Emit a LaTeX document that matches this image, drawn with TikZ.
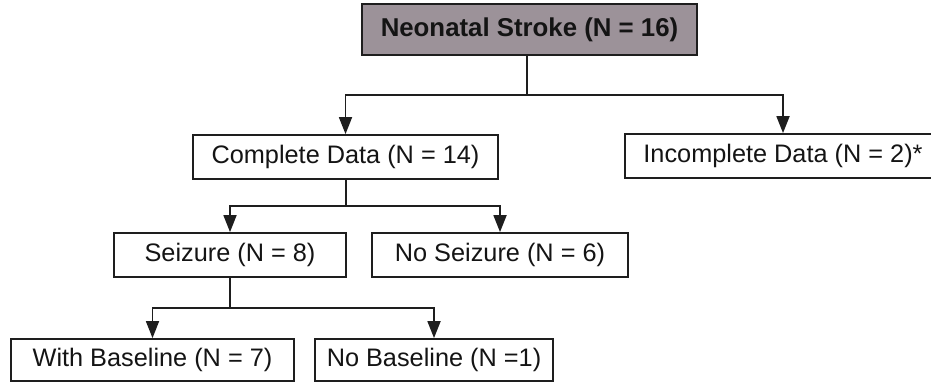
\documentclass[tikz,border=0pt]{standalone}
\usepackage{fontspec}
\setmainfont{Liberation Sans}
\usetikzlibrary{arrows.meta}
\definecolor{topfill}{RGB}{156,146,153}
\definecolor{linec}{RGB}{30,30,30}
\begin{document}
\begin{tikzpicture}[x=1pt,y=-1pt,
  box/.style={draw=linec,line width=1.8pt,inner sep=0pt,anchor=center,
    font=\fontsize{25.3}{29}\selectfont,text=black!92},
  conn/.style={draw=linec,line width=1.8pt},
  arr/.style={conn,-{Triangle[length=17pt,width=13pt]}}]
\useasboundingbox (0,0) rectangle (931,383);
\clip (0,0) rectangle (931,383);
\node[box,fill=topfill,minimum width=335pt,minimum height=51pt,font=\fontsize{25.8}{29}\selectfont\bfseries] (top) at (529.5,29.5) {Neonatal Stroke (N = 16)};
\node[box,minimum width=305pt,minimum height=44pt] (complete) at (345.5,157) {Complete Data (N = 14)};
\node[box,minimum width=316pt,minimum height=44pt] (incomplete) at (783,156) {Incomplete Data (N = 2)*};
\node[box,minimum width=232pt,minimum height=44pt] (seizure) at (230,255) {Seizure (N = 8)};
\node[box,minimum width=256pt,minimum height=44pt] (noseizure) at (500,255) {No Seizure (N = 6)};
\node[box,minimum width=283pt,minimum height=42pt] (withbl) at (152.5,360) {With Baseline (N = 7)};
\node[box,minimum width=238pt,minimum height=42pt] (nobl) at (434,360) {No Baseline (N =1)};
\coordinate (j1) at (527,95);
\coordinate (j2) at (346,206);
\coordinate (j3) at (230,308);
\draw[conn] (top.south -| j1) -- (j1);
\draw[arr] (j1) -| (complete.north);
\draw[arr] (j1) -| (incomplete.north);
\draw[conn] (complete.south -| j2) -- (j2);
\draw[arr] (j2) -| (seizure.north);
\draw[arr] (j2) -| (noseizure.north);
\draw[conn] (seizure.south -| j3) -- (j3);
\draw[arr] (j3) -| (withbl.north);
\draw[arr] (j3) -| (nobl.north);
\end{tikzpicture}
\end{document}
